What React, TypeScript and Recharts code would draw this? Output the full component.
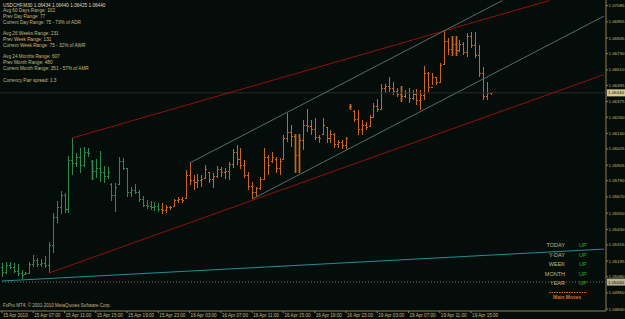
import { Bar, ComposedChart, Line, ReferenceLine, XAxis, YAxis } from "recharts";

// USDCHF M30, 15 Apr 03:00 .. 19 Apr 17:30 (126 bars)
const highs = [
  1.0518, 1.05188, 1.05188, 1.0518, 1.05173, 1.05129, 1.05114, 1.05188, 1.0524, 1.05218,
  1.05211, 1.05233, 1.05336, 1.05551, 1.0564, 1.05714, 1.05699, 1.05973, 1.06106, 1.05995,
  1.06032, 1.06039, 1.06032, 1.05943, 1.0595, 1.0601, 1.05899, 1.05891, 1.05773, 1.05773,
  1.05965, 1.05958, 1.05884, 1.05743, 1.05765, 1.05721, 1.05677, 1.05647, 1.0564, 1.05632,
  1.05625, 1.05625, 1.0561, 1.05603, 1.05654, 1.05669, 1.05669, 1.05869, 1.05921, 1.05832,
  1.05839, 1.05832, 1.05906, 1.05854, 1.05847, 1.05899, 1.05891, 1.05884, 1.05928, 1.06024,
  1.06054, 1.06032, 1.05943, 1.05854, 1.0578, 1.05743, 1.05817, 1.06032, 1.0598, 1.06002,
  1.05965, 1.05958, 1.06128, 1.06291, 1.06202, 1.06135, 1.06135, 1.06239, 1.0632, 1.06239,
  1.06254, 1.06128, 1.06254, 1.06187, 1.06165, 1.06143, 1.06091, 1.06091, 1.06113, 1.06357,
  1.06313, 1.06313, 1.06239, 1.06224, 1.06276, 1.06365, 1.06394, 1.06505, 1.06505, 1.06557,
  1.0652, 1.06476, 1.06491, 1.06461, 1.06476, 1.06461, 1.06468, 1.06461, 1.06639, 1.06594,
  1.06587, 1.06557, 1.06661, 1.06898, 1.06846, 1.06861, 1.06861, 1.06831, 1.06816, 1.06883,
  1.0689, 1.0689, 1.06794, 1.06631, 1.0652, 1.0644,
];
const lows = [
  1.05077, 1.05099, 1.05136, 1.05107, 1.05085, 1.05062, 1.05092, 1.05099, 1.05151, 1.05151,
  1.05151, 1.05144, 1.05107, 1.05255, 1.05477, 1.05543, 1.05551, 1.05551, 1.05832, 1.05891,
  1.05847, 1.05891, 1.05965, 1.05795, 1.0581, 1.0578, 1.05773, 1.05802, 1.0564, 1.05558,
  1.05758, 1.05869, 1.05669, 1.05669, 1.05691, 1.05632, 1.05595, 1.0558, 1.05573, 1.05566,
  1.05558, 1.05543, 1.05551, 1.05573, 1.05595, 1.05625, 1.05625, 1.05654, 1.05758, 1.05721,
  1.05736, 1.05743, 1.0581, 1.05773, 1.05736, 1.0581, 1.05817, 1.05802, 1.05795, 1.05884,
  1.05906, 1.05876, 1.0581, 1.05721, 1.05654, 1.05669, 1.05721, 1.05795, 1.05832, 1.05921,
  1.05847, 1.05832, 1.05943, 1.06076, 1.06039, 1.05847, 1.05847, 1.06017, 1.0615, 1.06128,
  1.06091, 1.06069, 1.06128, 1.06069, 1.06069, 1.06032, 1.06032, 1.06024, 1.06024, 1.06313,
  1.06224, 1.06128, 1.06128, 1.06165, 1.06187, 1.06254, 1.06298, 1.06313, 1.06439, 1.06446,
  1.06424, 1.06409, 1.06372, 1.06402, 1.06365, 1.06387, 1.0635, 1.06313, 1.06387, 1.06446,
  1.06498, 1.06498, 1.0652, 1.06646, 1.0672, 1.06713, 1.06713, 1.06742, 1.0672, 1.06705,
  1.06772, 1.06698, 1.06557, 1.06387, 1.06387, 1.06425,
];
const opens = [
  1.0515, 1.0511, 1.0516, 1.0515, 1.0512, 1.051, 1.05095, 1.05105, 1.0517, 1.052,
  1.0517, 1.0518, 1.0516, 1.0531, 1.0552, 1.0559, 1.0568, 1.0558, 1.0594, 1.0592,
  1.0596, 1.059, 1.06, 1.0593, 1.0586, 1.0588, 1.0585, 1.0582, 1.0576, 1.0568,
  1.0576, 1.0593, 1.0588, 1.057, 1.0572, 1.057, 1.0565, 1.0561, 1.056, 1.0559,
  1.056, 1.0558, 1.0557, 1.0559, 1.056, 1.0564, 1.0565, 1.0566, 1.0583, 1.0579,
  1.0578, 1.0579, 1.0581, 1.0585, 1.058, 1.0582, 1.0587, 1.0585, 1.0586, 1.0591,
  1.06, 1.0595, 1.059, 1.0583, 1.0575, 1.057, 1.0573, 1.058, 1.0596, 1.0593,
  1.0595, 1.0588, 1.0595, 1.061, 1.0615, 1.0612, 1.0598, 1.0609, 1.062, 1.0619,
  1.0617, 1.0611, 1.0613, 1.0618, 1.061, 1.0613, 1.0606, 1.0607, 1.0605, 1.0633,
  1.063, 1.0624, 1.0617, 1.062, 1.0619, 1.0626, 1.0634, 1.0632, 1.0647, 1.0649,
  1.0647, 1.0645, 1.0643, 1.0641, 1.0644, 1.064, 1.0643, 1.0638, 1.0642, 1.0658,
  1.0648, 1.0655, 1.0652, 1.0665, 1.0682, 1.0676, 1.068, 1.0675, 1.068, 1.0674,
  1.0686, 1.0679, 1.0672, 1.0658, 1.0641, 1.06434,
];
const closes = [
  1.0511, 1.0516, 1.0515, 1.0512, 1.051, 1.0509, 1.05105, 1.0517, 1.052, 1.0517,
  1.0518, 1.0516, 1.0531, 1.0552, 1.0559, 1.0568, 1.0558, 1.0594, 1.0592, 1.0596,
  1.059, 1.06, 1.0599, 1.0586, 1.0588, 1.0585, 1.0582, 1.0585, 1.0568, 1.0574,
  1.0593, 1.0588, 1.057, 1.0572, 1.057, 1.0565, 1.0561, 1.056, 1.0559, 1.056,
  1.0558, 1.0557, 1.0559, 1.05595, 1.0564, 1.0565, 1.0564, 1.0583, 1.0579, 1.0578,
  1.0579, 1.058, 1.0587, 1.058, 1.0582, 1.0587, 1.0585, 1.0586, 1.0591, 1.06,
  1.0595, 1.059, 1.0583, 1.0575, 1.057, 1.0573, 1.058, 1.0596, 1.059, 1.0596,
  1.0588, 1.0593, 1.061, 1.0615, 1.0612, 1.0598, 1.0609, 1.062, 1.0619, 1.0617,
  1.0611, 1.061, 1.062, 1.061, 1.0613, 1.0606, 1.0607, 1.0605, 1.061, 1.0634,
  1.0624, 1.0617, 1.062, 1.0618, 1.0626, 1.0634, 1.0632, 1.0647, 1.0649, 1.0647,
  1.0645, 1.0643, 1.0641, 1.0644, 1.064, 1.0643, 1.0638, 1.0642, 1.0658, 1.0648,
  1.0655, 1.0652, 1.0664, 1.0682, 1.0676, 1.068, 1.0675, 1.068, 1.0674, 1.0686,
  1.0679, 1.0672, 1.0658, 1.0641, 1.06434, 1.0644,
];

// time axis: one label every 8 bars
const labelBars = [0, 8, 16, 24, 32, 40, 48, 56, 64, 72, 80, 88, 96, 104, 112, 120];
const timeLabels = [
  "15 Apr 2010", "15 Apr 07:00", "15 Apr 11:00", "15 Apr 15:00", "15 Apr 19:00", "15 Apr 23:00",
  "16 Apr 03:00", "16 Apr 07:00", "16 Apr 11:00", "16 Apr 15:00", "16 Apr 19:00", "16 Apr 23:00",
  "19 Apr 03:00", "19 Apr 07:00", "19 Apr 11:00", "19 Apr 15:00",
];
const priceTicks = [
  1.07085, 1.06965, 1.06845, 1.0673, 1.0661, 1.06495, 1.06375, 1.0626, 1.0614, 1.06025,
  1.05905, 1.0579, 1.0567, 1.0555, 1.0543, 1.05315, 1.05195, 1.0508, 1.0496, 1.0484,
];

// trendlines: [bar index, price] pairs
const redUpper = [[18, 1.06106], [140, 1.07123]];
const redLower = [[12, 1.05107], [154, 1.06575]];
const grayUpper = [[48, 1.05921], [128, 1.07123]];
const grayLower = [[64, 1.05654], [154, 1.07008]];
const tealLine = [[0, 1.05048], [154, 1.05284]];

const currentPrice = 1.0644;
const levelPrice = 1.0504;

const infoLines = [
  "Avg 60 Days Range: 102",
  "Prev Day Range: 77",
  "Current Day Range: 75 - 73% of ADR",
  "",
  "Avg 26 Weeks Range: 231",
  "Prev Week Range: 131",
  "Current Week Range: 75 - 32% of AWR",
  "",
  "Avg 24 Months Range: 607",
  "Prev Month Range: 480",
  "Current Month Range: 351 - 57% of AMR",
  "",
  "Currency Pair spread: 1.3",
];
const periods = ["TODAY", "Y-DAY", "WEEK", "MONTH", "YEAR"];
const periodTrend = ["UP", "UP", "UP", "UP", "UP"];

const SLOTS = 155;
const ORANGE_FROM = 41;
const shadedBars = [23, 75, 76, 89, 102, 115, 116];

const BG = "#050d0b";
const AXIS = "#8f8050";
const TEXT = "#c9b67c";
const GREEN = "#2f8a4e";
const ORANGE = "#cc661e";

const trends: Record<string, number[][]> = {
  redUp: redUpper,
  redLo: redLower,
  grayUp: grayUpper,
  grayLo: grayLower,
  teal: tealLine,
};

const rows = Array.from({ length: SLOTS }, (_, i) => {
  const row: any = { i };
  if (i < highs.length) {
    row.range = [lows[i], highs[i]];
    row.o = opens[i];
    row.c = closes[i];
  }
  Object.entries(trends).forEach(([k, pts]) => {
    pts.forEach(([idx, p]) => {
      if (idx === i) row[k] = p;
    });
  });
  return row;
});

function OhlcBar(props: any) {
  const { x, y, width, height, payload } = props;
  if (!payload || !payload.range) return null;
  const [lo, hi] = payload.range;
  const top = Math.min(y, y + height);
  const h = Math.abs(height);
  const cx = Math.round(x + width / 2) + 0.5;
  const span = hi - lo || 1;
  const yo = top + ((hi - payload.o) / span) * h;
  const yc = top + ((hi - payload.c) / span) * h;
  const color = payload.i >= ORANGE_FROM ? ORANGE : GREEN;
  const shaded = shadedBars.includes(payload.i);
  return (
    <g stroke={color} strokeWidth={1} shapeRendering="crispEdges">
      {shaded && (
        <rect x={cx - 1.5} y={top} width={3} height={Math.max(h, 1)} fill={color} fillOpacity={0.35} stroke="none" />
      )}
      <line x1={cx} x2={cx} y1={top} y2={top + Math.max(h, 1)} />
      <line x1={cx - 1.5} x2={cx} y1={yo} y2={yo} />
      <line x1={cx} x2={cx + 1.5} y1={yc} y2={yc} />
    </g>
  );
}

function TimeTick(props: any) {
  const { x, y, payload } = props;
  const k = labelBars.indexOf(payload.value);
  if (k < 0) return null;
  return (
    <g>
      <line x1={x} x2={x} y1={y} y2={y + 2} stroke={AXIS} />
      <text x={x + 1} y={y + 5.8} fontSize={4.6} fill={TEXT} textAnchor="start">
        {timeLabels[k]}
      </text>
    </g>
  );
}

function PriceTick(props: any) {
  const { x, y, payload } = props;
  return (
    <text x={x} y={y} dy={1.5} fontSize={4.4} fill={TEXT} textAnchor="start">
      {Number(payload.value).toFixed(5)}
    </text>
  );
}

function PriceBox({ viewBox, value, fill, color }: any) {
  if (!viewBox) return null;
  const bx = viewBox.x + viewBox.width + 1;
  return (
    <g>
      <rect x={bx} y={viewBox.y - 3.5} width={18} height={7} fill={fill} />
      <text x={bx + 1} y={viewBox.y + 1.6} fontSize={4.4} fill={color}>
        {value.toFixed(5)}
      </text>
    </g>
  );
}

const lineProps = {
  strokeWidth: 1,
  dot: false,
  activeDot: false,
  connectNulls: true,
  isAnimationActive: false,
} as const;

export default function App() {
  const font = "'Liberation Sans', Arial, sans-serif";
  return (
    <div style={{ position: "relative", width: 625, height: 319, background: BG, fontFamily: font }}>
      <style>{`body{margin:0;background:${BG}}`}</style>
      <ComposedChart
        width={625}
        height={319}
        data={rows}
        margin={{ top: 0, right: 0, bottom: 0, left: 0 }}
        barCategoryGap={0}
        barGap={0}
        style={{ fontFamily: font }}
      >
        <XAxis
          dataKey="i"
          interval={0}
          height={8}
          tickLine={false}
          tickSize={0}
          tickMargin={0}
          axisLine={{ stroke: AXIS }}
          tick={(p: any) => <TimeTick {...p} />}
        />
        <YAxis
          orientation="right"
          width={19}
          domain={[1.04826, 1.07127]}
          allowDataOverflow
          ticks={priceTicks}
          interval={0}
          tickSize={2}
          tickMargin={0.5}
          tickLine={{ stroke: AXIS }}
          axisLine={{ stroke: AXIS }}
          tick={(p: any) => <PriceTick {...p} />}
        />
        <ReferenceLine
          y={currentPrice}
          stroke="#2a2b27"
          label={(p: any) => <PriceBox {...p} value={currentPrice} fill="#d8c88a" color="#141008" />}
        />
        <ReferenceLine
          y={levelPrice}
          stroke="#7c7054"
          strokeDasharray="1 2"
          label={(p: any) => <PriceBox {...p} value={levelPrice} fill="#b8ae90" color="#141008" />}
        />
        <Bar dataKey="range" isAnimationActive={false} shape={(p: any) => <OhlcBar {...p} />} />
        <Line dataKey="teal" stroke="#1f8f94" {...lineProps} />
        <Line dataKey="redLo" stroke="#940f0f" {...lineProps} />
        <Line dataKey="redUp" stroke="#940f0f" {...lineProps} />
        <Line dataKey="grayUp" stroke="#566c6c" {...lineProps} />
        <Line dataKey="grayLo" stroke="#566c6c" {...lineProps} />
      </ComposedChart>
      <svg width={625} height={319} style={{ position: "absolute", left: 0, top: 0, pointerEvents: "none" }}>
        <text x={3} y={6.6} fontSize={4.7} fill="#e0d8b8" fontFamily={font}>
          USDCHF,M30  1.06434 1.06440 1.06425 1.06440
        </text>
        {infoLines.map((t, k) => (
          <text key={k} x={3} y={12 + k * 5.8} fontSize={4.7} fill={TEXT} fontFamily={font}>
            {t}
          </text>
        ))}
        {periods.map((t, k) => (
          <g key={t}>
            <text x={565} y={247 + k * 9.5} fontSize={5.5} fill={TEXT} textAnchor="end" fontFamily={font}>
              {t}
            </text>
            <text x={579} y={247 + k * 9.5} fontSize={5.5} fill="#22b422" fontFamily={font}>
              {periodTrend[k]}
            </text>
          </g>
        ))}
        <line x1={549} x2={587} y1={292.5} y2={292.5} stroke="#d8701a" strokeDasharray="1.5 1" />
        <text x={553} y={299} fontSize={5} fontWeight="bold" fill="#d8701a" fontFamily={font}>
          Main Moves
        </text>
        <text x={3} y={307} fontSize={4.5} fill={TEXT} fontFamily={font}>
          FxPro MT4, © 2001-2010 MetaQuotes Software Corp.
        </text>
      </svg>
    </div>
  );
}
